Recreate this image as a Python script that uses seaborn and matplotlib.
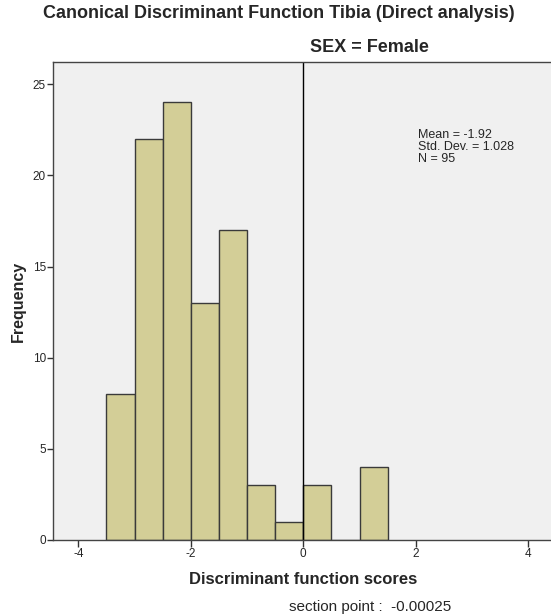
import numpy as np
import pandas as pd
import matplotlib
matplotlib.use("Agg")
import matplotlib.pyplot as plt
import seaborn as sns

# Histogram of discriminant scores, female group
bin_edges = [-3.5, -3.0, -2.5, -2.0, -1.5, -1.0, -0.5, 0.0, 0.5, 1.0, 1.5]
counts = [8, 22, 24, 13, 17, 3, 1, 3, 0, 4]
section_point = -0.00025
stats_text = "Mean = -1.92\nStd. Dev. = 1.028\nN = 95"

centers = [(a + b) / 2 for a, b in zip(bin_edges[:-1], bin_edges[1:])]
df = pd.DataFrame({"score": centers, "count": counts})

sns.set_style("white")
plt.rcParams['font.family'] = ['Liberation Sans', 'DejaVu Sans']
plt.rcParams['axes.unicode_minus'] = False

W, H = 551, 616
fig = plt.figure(figsize=(W / 100, H / 100), dpi=100)
# axes box in pixels: left 53.3, top 62, bottom 540, right edge just past the figure
ax = fig.add_axes([53.3 / W, 1 - 540 / H, 500 / W, 478 / H])
ax.set_facecolor("#F0F0F0")

sns.histplot(data=df, x="score", weights="count", bins=bin_edges,
             color="#D3CE97", edgecolor="#3A3A3A", linewidth=1.0,
             alpha=1.0, ax=ax)

ax.axvline(section_point, color="black", linewidth=1.0)

ax.set_xlim(-4.444, 4.444)
ax.set_ylim(0, 26.22)
ax.set_xticks([-4, -2, 0, 2, 4])
ax.set_yticks([0, 5, 10, 15, 20, 25])
ax.tick_params(axis="x", direction="out", length=5, width=1, labelsize=8.5,
               color="#333333", pad=1)
ax.tick_params(axis="y", direction="out", length=4.3, width=1, labelsize=8.5,
               color="#333333", pad=1)
ax.tick_params(bottom=True, left=True)
for side in ["top", "right", "left", "bottom"]:
    ax.spines[side].set_color("#444444")
    ax.spines[side].set_linewidth(1.0)

ax.set_xlabel("Discriminant function scores", fontsize=12, fontweight="bold")
ax.xaxis.set_label_coords(0.5, -(579 - 540) / 478, transform=ax.transAxes)
ax.set_ylabel("Frequency", fontsize=11.5, fontweight="bold")
ax.yaxis.set_label_coords(-(53.3 - 18.5) / 500, 0.5, transform=ax.transAxes)
ax.xaxis.label.set_va("center")
ax.yaxis.label.set_va("center")

ax.text((418.3 - 53.3) / 500, (540 - 129) / 478, stats_text,
        transform=ax.transAxes, fontsize=9, va="top", ha="left",
        linespacing=1.0)

fig.text(279 / W, 1 - 13 / H, "Canonical Discriminant Function Tibia (Direct analysis)",
         ha="center", va="center", fontsize=13, fontweight="bold")
fig.text(369 / W, 1 - 47 / H, "SEX = Female", ha="center", va="center",
         fontsize=13, fontweight="bold")
fig.text(370 / W, 1 - 607 / H, "section point :  -0.00025", ha="center",
         va="center", fontsize=11)

fig.savefig("out.png", dpi=100)
